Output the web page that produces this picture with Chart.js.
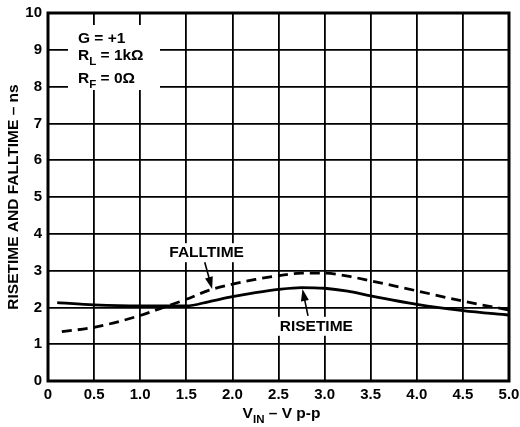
<!DOCTYPE html>
<html>
<head>
<meta charset="utf-8">
<script src="https://cdn.jsdelivr.net/npm/chart.js@4.4.0/dist/chart.umd.min.js"></script>
<style>
  html, body { margin: 0; padding: 0; background: #fff; }
  #wrap { width: 520px; height: 427px; }
</style>
</head>
<body>
<div id="wrap"><canvas id="myChart" width="520" height="427"></canvas></div>
<script>
// values
var riseX = [0.1, 0.5, 1.0, 1.5, 1.75, 2.0, 2.25, 2.5, 2.75, 3.0, 3.25, 3.5, 4.0, 4.5, 5.0];
var riseY = [2.13, 2.07, 2.04, 2.04, 2.16, 2.29, 2.40, 2.49, 2.54, 2.52, 2.44, 2.31, 2.08, 1.91, 1.79];
var fallX = [0.15, 0.5, 1.0, 1.25, 1.5, 1.75, 2.0, 2.25, 2.5, 2.75, 3.0, 3.25, 3.5, 4.0, 4.5, 5.0];
var fallY = [1.34, 1.46, 1.78, 2.0, 2.22, 2.47, 2.63, 2.76, 2.86, 2.93, 2.93, 2.85, 2.72, 2.45, 2.17, 1.93];
var xTicks = [0, 0.5, 1.0, 1.5, 2.0, 2.5, 3.0, 3.5, 4.0, 4.5, 5.0];
var yTicks = [0, 1, 2, 3, 4, 5, 6, 7, 8, 9, 10];

var FONT = '"Liberation Sans", Arial, Helvetica, sans-serif';
var TXT = 'bold 15.5px ' + FONT;
var SUB = 'bold 11.5px ' + FONT;

function pts(xs, ys) {
  return xs.map(function (x, i) { return { x: x, y: ys[i] }; });
}

function arrow(ctx, x1, y1, x2, y2) {
  var a = Math.atan2(y2 - y1, x2 - x1);
  ctx.beginPath();
  ctx.moveTo(x1, y1);
  ctx.lineTo(x2 - 8 * Math.cos(a), y2 - 8 * Math.sin(a));
  ctx.lineWidth = 1.6;
  ctx.stroke();
  ctx.beginPath();
  ctx.moveTo(x2, y2);
  ctx.lineTo(x2 - 12 * Math.cos(a) + 4 * Math.sin(a), y2 - 12 * Math.sin(a) - 4 * Math.cos(a));
  ctx.lineTo(x2 - 12 * Math.cos(a) - 4 * Math.sin(a), y2 - 12 * Math.sin(a) + 4 * Math.cos(a));
  ctx.closePath();
  ctx.fill();
}

// text with a subscript part
function subText(ctx, x, y, main, sub, rest) {
  ctx.font = TXT;
  ctx.fillText(main, x, y);
  var w = ctx.measureText(main).width;
  ctx.font = SUB;
  ctx.fillText(sub, x + w, y + 5);
  var w2 = ctx.measureText(sub).width;
  ctx.font = TXT;
  ctx.fillText(rest, x + w + w2, y);
}

// centred label on a white patch
function label(ctx, text, x, y) {
  ctx.font = TXT;
  var w = ctx.measureText(text).width;
  ctx.fillStyle = '#fff';
  ctx.fillRect(x - w / 2 - 3, y - 9, w + 6, 19);
  ctx.fillStyle = '#000';
  ctx.textAlign = 'center';
  ctx.textBaseline = 'middle';
  ctx.fillText(text, x, y + 1);
}

// frame, labels, arrows and the x title with its subscript
var extras = {
  id: 'extras',
  afterDatasetsDraw: function (chart) {
    var ctx = chart.ctx, xs = chart.scales.x, ys = chart.scales.y, a = chart.chartArea;
    ctx.save();
    ctx.strokeStyle = '#000';

    // condition box
    ctx.fillStyle = '#fff';
    ctx.fillRect(a.left + 20, a.top + 12, 92, 65);
    ctx.fillStyle = '#000';
    ctx.textBaseline = 'alphabetic';
    ctx.textAlign = 'left';
    var tx = a.left + 30;
    ctx.font = TXT;
    ctx.fillText('G = +1', tx, a.top + 30);
    subText(ctx, tx, a.top + 47, 'R', 'L', ' = 1k\u03A9');
    subText(ctx, tx, a.top + 70, 'R', 'F', ' = 0\u03A9');

    // FALLTIME label
    var fy = ys.getPixelForValue(3.5);
    label(ctx, 'FALLTIME', xs.getPixelForValue(1.72), fy);
    arrow(ctx, xs.getPixelForValue(1.7), fy + 10, xs.getPixelForValue(1.78), ys.getPixelForValue(2.5));

    // RISETIME label
    var ry = ys.getPixelForValue(1.5);
    label(ctx, 'RISETIME', xs.getPixelForValue(2.91), ry);
    arrow(ctx, xs.getPixelForValue(2.82), ry - 10, xs.getPixelForValue(2.76), ys.getPixelForValue(2.5));

    // frame
    ctx.lineWidth = 3;
    ctx.strokeRect(a.left, a.top, a.right - a.left, a.bottom - a.top);

    // x title
    ctx.textAlign = 'left';
    ctx.textBaseline = 'alphabetic';
    ctx.font = TXT;
    var v = ctx.measureText('V').width;
    var rest = ' \u2013 V p-p';
    var restW = ctx.measureText(rest).width;
    ctx.font = SUB;
    var sub = ctx.measureText('IN').width;
    var cx = (a.left + a.right) / 2 - (v + sub + restW) / 2 + 3;
    subText(ctx, cx, a.bottom + 37, 'V', 'IN', rest);
    ctx.restore();
  }
};

var ctx = document.getElementById('myChart').getContext('2d');
var myChart = new Chart(ctx, {
  type: 'line',
  data: {
    datasets: [{
      label: 'RISETIME',
      data: pts(riseX, riseY),
      borderColor: '#000',
      borderWidth: 2.8,
      pointRadius: 0,
      cubicInterpolationMode: 'monotone',
      fill: false
    }, {
      label: 'FALLTIME',
      data: pts(fallX, fallY),
      borderColor: '#000',
      borderWidth: 2.8,
      borderDash: [10, 6],
      pointRadius: 0,
      cubicInterpolationMode: 'monotone',
      fill: false
    }]
  },
  options: {
    responsive: false,
    animation: false,
    layout: { padding: { top: 13, right: 11, left: 0, bottom: 0 } },
    plugins: { legend: { display: false }, tooltip: { enabled: false } },
    scales: {
      x: {
        type: 'linear',
        min: 0,
        max: 5,
        afterBuildTicks: function (s) { s.ticks = xTicks.map(function (v) { return { value: v }; }); },
        afterFit: function (s) { s.height = 46; s.paddingLeft = 0; s.paddingRight = 0; },
        grid: { color: '#000', lineWidth: 1.8, drawTicks: false },
        border: { display: false },
        ticks: {
          color: '#000',
          padding: 5,
          maxRotation: 0,
          font: { family: FONT, size: 15, weight: 'bold' },
          callback: function (v) { return v === 0 ? '0' : v.toFixed(1); }
        }
      },
      y: {
        min: 0,
        max: 10,
        afterBuildTicks: function (s) { s.ticks = yTicks.map(function (v) { return { value: v }; }); },
        afterFit: function (s) { s.width = 48; s.paddingTop = 0; s.paddingBottom = 0; },
        grid: { color: '#000', lineWidth: 1.8, drawTicks: false },
        border: { display: false },
        ticks: {
          color: '#000',
          padding: 6,
          font: { family: FONT, size: 15, weight: 'bold' }
        },
        title: {
          display: true,
          text: 'RISETIME AND FALLTIME \u2013 ns',
          color: '#000',
          padding: { top: 4, bottom: 0 },
          font: { family: FONT, size: 15.5, weight: 'bold' }
        }
      }
    }
  },
  plugins: [extras]
});
</script>
</body>
</html>
